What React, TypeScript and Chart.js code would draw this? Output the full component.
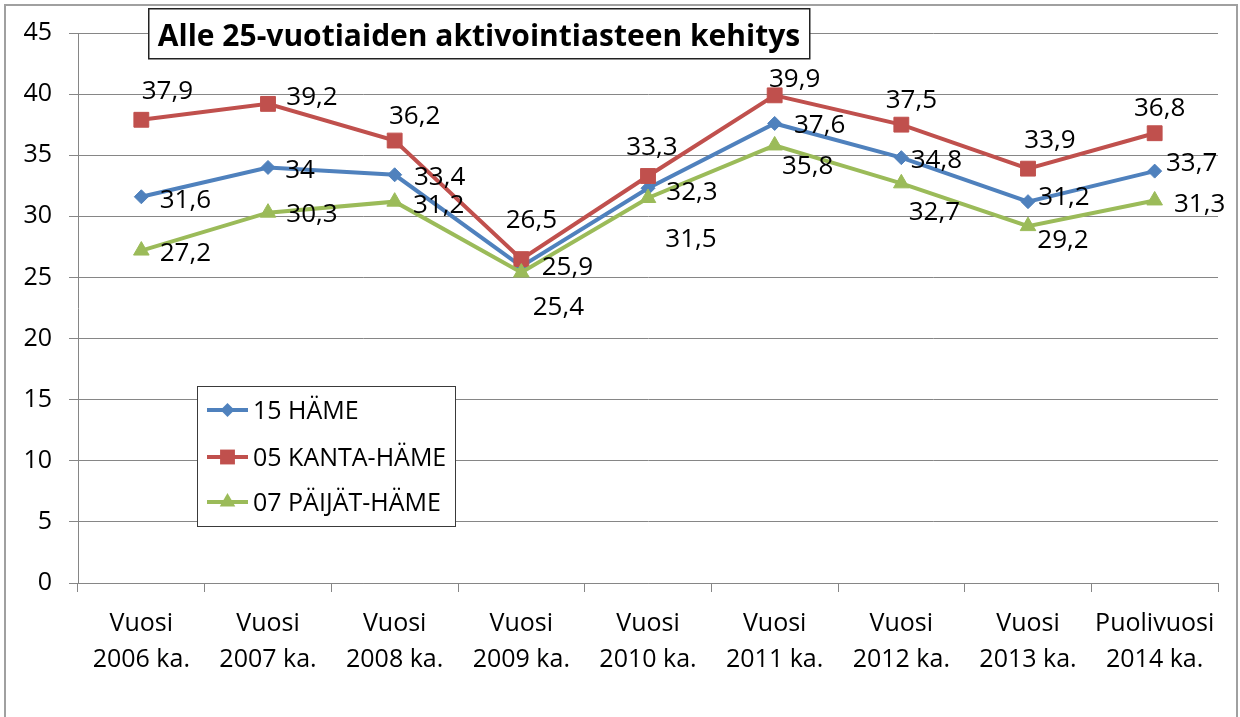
import React, { useEffect, useRef } from "react";
import { Chart, registerables } from "chart.js";

Chart.register(...registerables);

// ---- Data ----
const categories: string[][] = [
  ["Vuosi", "2006 ka."],
  ["Vuosi", "2007 ka."],
  ["Vuosi", "2008 ka."],
  ["Vuosi", "2009 ka."],
  ["Vuosi", "2010 ka."],
  ["Vuosi", "2011 ka."],
  ["Vuosi", "2012 ka."],
  ["Vuosi", "2013 ka."],
  ["Puolivuosi", "2014 ka."],
];
const hame = [31.6, 34, 33.4, 25.9, 32.3, 37.6, 34.8, 31.2, 33.7];
const kantaHame = [37.9, 39.2, 36.2, 26.5, 33.3, 39.9, 37.5, 33.9, 36.8];
const paijatHame = [27.2, 30.3, 31.2, 25.4, 31.5, 35.8, 32.7, 29.2, 31.3];
const seriesNames = ["15 HÄME", "05 KANTA-HÄME", "07 PÄIJÄT-HÄME"];
const yMin = 0;
const yMax = 45;
const yStep = 5;
const chartTitle = "Alle 25-vuotiaiden aktivointiasteen kehitys";

// ---- Styles ----
const FONT = "'Open Sans', 'Noto Sans', sans-serif";
const colors = ["#4F81BD", "#C0504D", "#9BBB59"];
const pointStyles = ["rectRot", "rect", "triangle"];
const pointRadii = [7, 10.5, 9];
const GRID = "#868686";

// label offsets (text centre relative to point, px)
const labelOffsets: number[][][] = [
  [[44, 2], [32, 1], [45, 1], [46, -1], [44, 2.5], [45, 0], [35, 1], [36, -6], [37, -10]],
  [[26, -30], [44, -8], [20, -26], [10, -41], [4, -31], [20, -18], [10, -26], [22, -30], [5, -27]],
  [[44, 1], [44, 0], [44, 2], [37, 33], [43, 39], [33, 19], [33, 27], [35, 12], [45, 2]],
];

const fmt = (v: number) => String(v).replace(".", ",");

function drawMarker(ctx: CanvasRenderingContext2D, style: string, x: number, y: number, r: number) {
  ctx.beginPath();
  if (style === "rectRot") {
    ctx.moveTo(x - r, y);
    ctx.lineTo(x, y - r);
    ctx.lineTo(x + r, y);
    ctx.lineTo(x, y + r);
    ctx.closePath();
  } else if (style === "rect") {
    const s = Math.SQRT1_2 * r;
    ctx.rect(x - s, y - s, 2 * s, 2 * s);
  } else {
    const h = r;
    ctx.moveTo(x, y - h);
    ctx.lineTo(x + Math.sin((2 * Math.PI) / 3) * h, y - Math.cos((2 * Math.PI) / 3) * h);
    ctx.lineTo(x + Math.sin((4 * Math.PI) / 3) * h, y - Math.cos((4 * Math.PI) / 3) * h);
    ctx.closePath();
  }
  ctx.fill();
}

const decorPlugin = {
  id: "decor",
  beforeDraw(chart: any) {
    const ctx = chart.ctx as CanvasRenderingContext2D;
    ctx.save();
    ctx.fillStyle = "#ffffff";
    ctx.fillRect(0, 0, chart.width, chart.height);
    ctx.strokeStyle = "#a0a0a0";
    ctx.lineWidth = 2;
    ctx.strokeRect(5, 5, 1232, 740);
    ctx.restore();
  },
  afterDatasetsDraw(chart: any) {
    const ctx = chart.ctx as CanvasRenderingContext2D;
    ctx.save();
    // data labels
    ctx.font = `26px ${FONT}`;
    ctx.fillStyle = "#000";
    ctx.textAlign = "center";
    ctx.textBaseline = "alphabetic";
    chart.data.datasets.forEach((ds: any, di: number) => {
      const meta = chart.getDatasetMeta(di);
      meta.data.forEach((pt: any, i: number) => {
        const off = labelOffsets[di][i];
        ctx.fillText(fmt(ds.data[i]), pt.x + off[0], pt.y + off[1] + 9.5);
      });
    });

    // legend
    const lx = 197, ly = 386, lw = 258, lh = 140;
    ctx.fillStyle = "#fff";
    ctx.fillRect(lx, ly, lw, lh);
    ctx.strokeStyle = "#3a3a3a";
    ctx.lineWidth = 1;
    ctx.strokeRect(lx + 0.5, ly + 0.5, lw, lh);
    const rows = [410, 457, 502];
    seriesNames.forEach((name, i) => {
      const y = rows[i];
      ctx.strokeStyle = colors[i];
      ctx.lineWidth = 4;
      ctx.beginPath();
      ctx.moveTo(207, y);
      ctx.lineTo(248, y);
      ctx.stroke();
      ctx.fillStyle = colors[i];
      drawMarker(ctx, pointStyles[i], 227.5, y, pointRadii[i]);
      ctx.fillStyle = "#000";
      ctx.font = `25px ${FONT}`;
      ctx.textAlign = "left";
      ctx.fillText(name, 253, y + 9);
    });

    // title
    ctx.fillStyle = "#fff";
    ctx.fillRect(148, 8, 662, 51);
    ctx.strokeStyle = "#222";
    ctx.lineWidth = 1.5;
    ctx.strokeRect(148.75, 8.75, 661, 50);
    ctx.fillStyle = "#000";
    ctx.font = `bold 30px ${FONT}`;
    ctx.textAlign = "center";
    ctx.fillText(chartTitle, 479, 46);
    ctx.restore();
  },
};

export default function App() {
  const ref = useRef<HTMLCanvasElement | null>(null);
  useEffect(() => {
    if (!ref.current) return;
    const seriesData = [hame, kantaHame, paijatHame];
    const chart = new Chart(ref.current, {
      type: "line",
      data: {
        labels: categories,
        datasets: seriesData.map((d, i) => ({
          label: seriesNames[i],
          data: d,
          borderColor: colors[i],
          backgroundColor: colors[i],
          borderWidth: 4,
          pointStyle: pointStyles[i] as any,
          pointRadius: pointRadii[i],
          pointBorderWidth: 1,
          pointBackgroundColor: colors[i],
          pointBorderColor: colors[i],
          tension: 0,
          fill: false,
          order: 3 - i,
        })),
      },
      options: {
        responsive: false,
        animation: false,
        devicePixelRatio: 1,
        layout: { padding: { top: 33, right: 22, left: 0, bottom: 0 } },
        plugins: {
          legend: { display: false },
          title: { display: false },
          tooltip: { enabled: false },
        },
        scales: {
          x: {
            type: "category",
            offset: true,
            grid: {
              display: true,
              drawOnChartArea: false,
              drawTicks: true,
              tickLength: 9,
              offset: true,
              color: GRID,
            },
            border: { display: true, color: GRID, width: 1 },
            ticks: {
              color: "#000",
              font: { family: FONT, size: 25, lineHeight: "36px" as any },
              padding: 14,
              maxRotation: 0,
              autoSkip: false,
            },
            afterFit: (s: any) => {
              s.height = 134;
            },
          },
          y: {
            min: yMin,
            max: yMax,
            ticks: {
              stepSize: yStep,
              color: "#000",
              font: { family: FONT, size: 25 },
              padding: 17,
            },
            grid: { color: GRID, tickLength: 9, drawTicks: true },
            border: { display: true, color: GRID, width: 1 },
            afterFit: (s: any) => {
              s.width = 78;
            },
          },
        },
      },
      plugins: [decorPlugin],
    });
    return () => chart.destroy();
  }, []);
  return (
    <div style={{ position: "absolute", left: 0, top: 0, width: 1240, height: 717, background: "#fff" }}>
      <canvas ref={ref} width={1240} height={717} style={{ display: "block" }} />
    </div>
  );
}
